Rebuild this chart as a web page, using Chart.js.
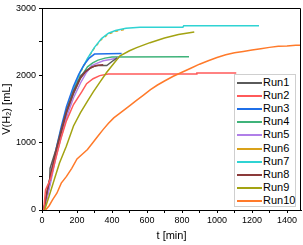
<!DOCTYPE html>
<html>
<head>
<meta charset="utf-8">
<script src="https://cdn.jsdelivr.net/npm/chart.js@4"></script>
<style>
html,body{margin:0;padding:0;background:#fff;}
#wrap{position:relative;width:303px;height:245px;}
#legend{position:absolute;left:234px;top:74px;width:62px;height:133px;border:1px solid #cfcfcf;background:#fff;box-sizing:border-box;font-family:"Liberation Sans",Arial,sans-serif;font-size:11px;color:#000;}
.li{position:absolute;left:0;height:13px;line-height:13px;white-space:nowrap;}
.li span.sw{position:absolute;left:2px;top:6px;width:25px;height:2px;}
.li span.tx{position:absolute;left:28px;top:0;}
</style>
</head>
<body>
<div id="wrap">
<canvas id="c" width="303" height="245"></canvas>
<div id="legend"></div>
</div>
<script>
const runNames = ["Run1","Run2","Run3","Run4","Run5","Run6","Run7","Run8","Run9","Run10"];
const runColors = ["#5a5a5a","#ff5a5a","#1f6fe8","#3fb37a","#b07fe8","#d9a21a","#2fd3d3","#8b3a3a","#a3a312","#ff7a2a"];

const run1T = [10,30,44,46,80,110,140,180,220,250,275,300,320,370,400,430];
const run1V = [0,300,450,620,900,1200,1480,1770,1990,2070,2110,2140,2150,2150,2210,2265];
const run2T = [10,20,50,80,110,140,180,227,255,292,330,378,880,885,1110];
const run2V = [0,300,470,780,1080,1330,1570,1757,1879,1953,2000,2025,2025,2040,2040];
const run3T = [10,30,50,80,110,140,180,210,240,270,300,455];
const run3V = [0,260,520,900,1240,1540,1840,2020,2160,2260,2320,2330];
const run4T = [10,30,50,80,110,140,180,220,260,290,320,360,400,840];
const run4V = [0,220,470,840,1140,1440,1730,1970,2130,2190,2230,2260,2275,2280];
const run5T = [10,30,50,80,110,140,180,220,255,285,320,350,390,440];
const run5V = [0,190,420,790,1090,1380,1670,1890,2050,2150,2190,2220,2240,2265];
const run6T = [10,30,50,80,110,140,180,220,260,300,340,380,420,480];
const run6V = [0,210,460,830,1170,1470,1790,2050,2245,2415,2540,2620,2660,2690];
const run7T = [10,30,50,80,110,140,180,220,260,300,340,380,420,480,560,805,810,1240];
const run7V = [0,210,460,830,1170,1470,1790,2060,2255,2420,2550,2630,2670,2705,2718,2720,2740,2740];
const run8T = [10,30,50,80,110,140,180,220,250,280,310,350];
const run8V = [0,280,540,870,1160,1450,1740,1960,2060,2120,2150,2160];
const run9T = [15,40,72,100,139,180,220,260,293,330,370,410,446,500,541,617,700,780,870];
const run9V = [0,200,470,700,950,1250,1450,1620,1757,1900,2050,2180,2294,2370,2416,2490,2560,2610,2650];
const run10T = [20,40,60,85,110,140,170,200,230,260,290,320,350,380,410,440,470,500,540,580,620,660,700,750,800,850,900,950,1000,1050,1100,1150,1200,1250,1300,1350,1400,1450,1480];
const run10V = [0,60,150,250,400,500,620,760,830,900,1000,1100,1200,1290,1370,1430,1490,1550,1630,1710,1790,1860,1920,1990,2050,2110,2170,2220,2270,2310,2340,2360,2380,2400,2420,2435,2440,2450,2450];

const xTickLabels = [0,200,400,600,800,1000,1200,1400];
const yTickLabels = [0,1000,2000,3000];

const runT = [run1T,run2T,run3T,run4T,run5T,run6T,run7T,run8T,run9T,run10T];
const runV = [run1V,run2V,run3V,run4V,run5V,run6V,run7V,run8V,run9V,run10V];

// draw order: slower curves below, as in the figure
const order = [9,8,1,7,0,4,3,2,6,5];
const datasets = order.map(i => ({
  label: runNames[i],
  data: runT[i].map((t,k)=>({x:t,y:runV[i][k]})),
  borderColor: runColors[i],
  backgroundColor: runColors[i],
  borderWidth: 1.5,
  borderDash: i===5 ? [3,3] : [],
  pointRadius: 0,
  fill: false,
  tension: 0
}));

const framePlugin = {
  id:'frame',
  afterDraw(chart){
    const a = chart.chartArea, ctx = chart.ctx;
    ctx.save();
    ctx.strokeStyle='#000';
    ctx.lineWidth=1;
    ctx.beginPath();
    ctx.moveTo(Math.round(a.left)+0.5, Math.round(a.top)+0.5);
    ctx.lineTo(Math.round(a.right)-0.5, Math.round(a.top)+0.5);
    ctx.lineTo(Math.round(a.right)-0.5, Math.round(a.bottom)+0.5);
    ctx.stroke();
    ctx.restore();
  }
};

const tickFont = {family:'"Liberation Sans", Arial, sans-serif', size:9};
const chart = new Chart(document.getElementById('c'), {
  type:'line',
  data:{datasets},
  options:{
    responsive:false,
    animation:false,
    layout:{padding:{top:5,right:2,left:0,bottom:0}},
    plugins:{legend:{display:false},tooltip:{enabled:false}},
    scales:{
      x:{
        type:'linear', min:0, max:1480,
        afterFit(s){ s.height = 35; },
        border:{display:true,color:'#000',width:1},
        grid:{drawOnChartArea:false,drawTicks:true,tickLength:3,color:'#000'},
        ticks:{stepSize:100,autoSkip:false,includeBounds:false,maxRotation:0,padding:2,color:'#000',font:tickFont,
          callback:(v)=> xTickLabels.includes(v) ? String(v) : ''},
        title:{display:true,text:'t [min]',color:'#000',font:{family:'"Liberation Sans", Arial, sans-serif',size:11},padding:{top:0,bottom:2}}
      },
      y:{
        type:'linear', min:0, max:3000,
        afterFit(s){ s.width = 42; },
        border:{display:true,color:'#000',width:1},
        grid:{drawOnChartArea:false,drawTicks:true,tickLength:3,color:'#000'},
        ticks:{stepSize:500,autoSkip:false,padding:3,color:'#000',font:tickFont,
          callback:(v)=> yTickLabels.includes(v) ? String(v) : ''},
        title:{display:true,text:'V(H\u2082) [mL]',color:'#000',font:{family:'"Liberation Sans", Arial, sans-serif',size:11},padding:{top:0,bottom:0}}
      }
    }
  },
  plugins:[framePlugin]
});

const leg = document.getElementById('legend');
runNames.forEach((n,i)=>{
  const d = document.createElement('div');
  d.className='li';
  d.style.top = (1 + i*13.1) + 'px';
  d.innerHTML = '<span class="sw" style="background:'+runColors[i]+'"></span><span class="tx">'+n+'</span>';
  leg.appendChild(d);
});
</script>
</body>
</html>
